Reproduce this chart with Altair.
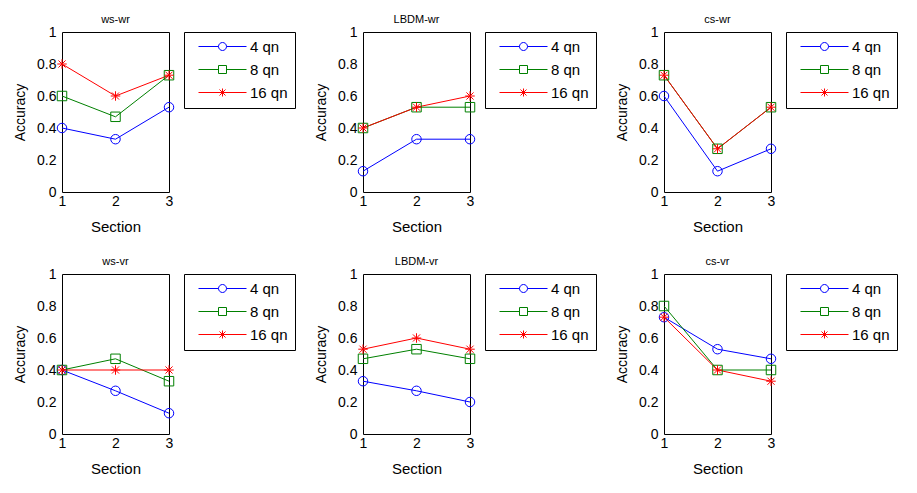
import altair as alt
import pandas as pd

panels = ["ws-wr", "LBDM-wr", "cs-wr", "ws-vr", "LBDM-vr", "cs-vr"]
sections = [1, 2, 3]
series = ["4 qn", "8 qn", "16 qn"]
acc_4qn = [[0.40, 0.33, 0.53], [0.13, 0.33, 0.33], [0.60, 0.13, 0.27],
           [0.40, 0.27, 0.13], [0.33, 0.27, 0.20], [0.73, 0.53, 0.47]]
acc_8qn = [[0.60, 0.47, 0.73], [0.40, 0.53, 0.53], [0.73, 0.27, 0.53],
           [0.40, 0.47, 0.33], [0.47, 0.53, 0.47], [0.80, 0.40, 0.40]]
acc_16qn = [[0.80, 0.60, 0.73], [0.40, 0.53, 0.60], [0.73, 0.27, 0.53],
            [0.40, 0.40, 0.40], [0.53, 0.60, 0.53], [0.73, 0.40, 0.33]]
y_ticks = [0, 0.2, 0.4, 0.6, 0.8, 1]
colors = ["#0000ff", "#008000", "#ff0000"]

circle = "M-1,0A1,1,0,1,1,1,0A1,1,0,1,1,-1,0Z"
square = "M-1,-1H1V1H-1Z"
star = "M-1,0H1M0,-1V1M-0.75,-0.75L0.75,0.75M-0.75,0.75L0.75,-0.75"
markers = [circle, square, star]
legend_paths = [
    "M-6,0H-1M1,0H6" + circle,
    "M-6,0H-1M1,0H6" + square,
    "M-6,0H6" + star,
]

FONT = "Liberation Sans"


def panel(i):
    rows = []
    for s, vals in zip(series, [acc_4qn[i], acc_8qn[i], acc_16qn[i]]):
        for x, v in zip(sections, vals):
            rows.append({"Section": x, "Accuracy": v, "qn": s})
    df = pd.DataFrame(rows)
    base = alt.Chart(df).encode(
        x=alt.X("Section:O", scale=alt.Scale(type="point", domain=sections, padding=0),
                axis=alt.Axis(title="Section", labelAngle=0, labelOverlap=False)),
        y=alt.Y("Accuracy:Q", scale=alt.Scale(domain=[0, 1]),
                axis=alt.Axis(values=y_ticks, format=".1~f",
                              title="Accuracy", labelOverlap=False)),
    )
    layers = []
    for s, c in zip(series, colors):
        layers.append(base.transform_filter(alt.datum.qn == s).mark_line(strokeWidth=1, color=c))
    for s, c, m in zip(series, colors, markers):
        layers.append(
            base.transform_filter(alt.datum.qn == s)
            .mark_point(shape=m, size=90, filled=False, color=c, strokeWidth=1, opacity=1)
        )
    legend = alt.Legend(title=None, symbolOpacity=1, symbolSize=64,
                        symbolStrokeWidth=1, symbolOffset=24, labelOffset=20)
    leg = base.mark_point(opacity=0, filled=False).encode(
        color=alt.Color("qn:N", scale=alt.Scale(domain=series, range=colors), legend=legend),
        shape=alt.Shape("qn:N", scale=alt.Scale(domain=series, range=legend_paths), legend=legend),
    )
    layers.append(leg)
    return alt.layer(*layers).properties(
        width=107, height=160,
        title=alt.TitleParams(panels[i], fontSize=11, fontWeight="normal", font=FONT, offset=0),
    )


def row(a, b, c):
    return alt.hconcat(panel(a), panel(b), panel(c), spacing=18).resolve_scale(
        color="independent", shape="independent").resolve_legend(
        color="independent", shape="independent")


chart = alt.vconcat(row(0, 1, 2), row(3, 4, 5), spacing=20).resolve_scale(
    color="independent", shape="independent").resolve_legend(
    color="independent", shape="independent").configure_view(
    stroke="black", strokeWidth=1
).configure_axis(
    grid=False, ticks=False, domain=False, labelFont=FONT, titleFont=FONT,
    labelFontSize=14, titleFontSize=15, titleFontWeight="normal", labelColor="black",
    titleColor="black", labelOverlap=False
).configure_axisX(labelPadding=2, titlePadding=11).configure_axisY(
    labelPadding=6, titlePadding=9, titleFontSize=14
).configure_legend(
    orient="right", offset=15, strokeColor="black", fillColor="white", padding=7,
    labelFont=FONT, labelFontSize=15, labelColor="black", rowPadding=7, cornerRadius=0
).properties(background="white")

chart.save("out.html", embed_options={"renderer": "svg", "actions": False})
